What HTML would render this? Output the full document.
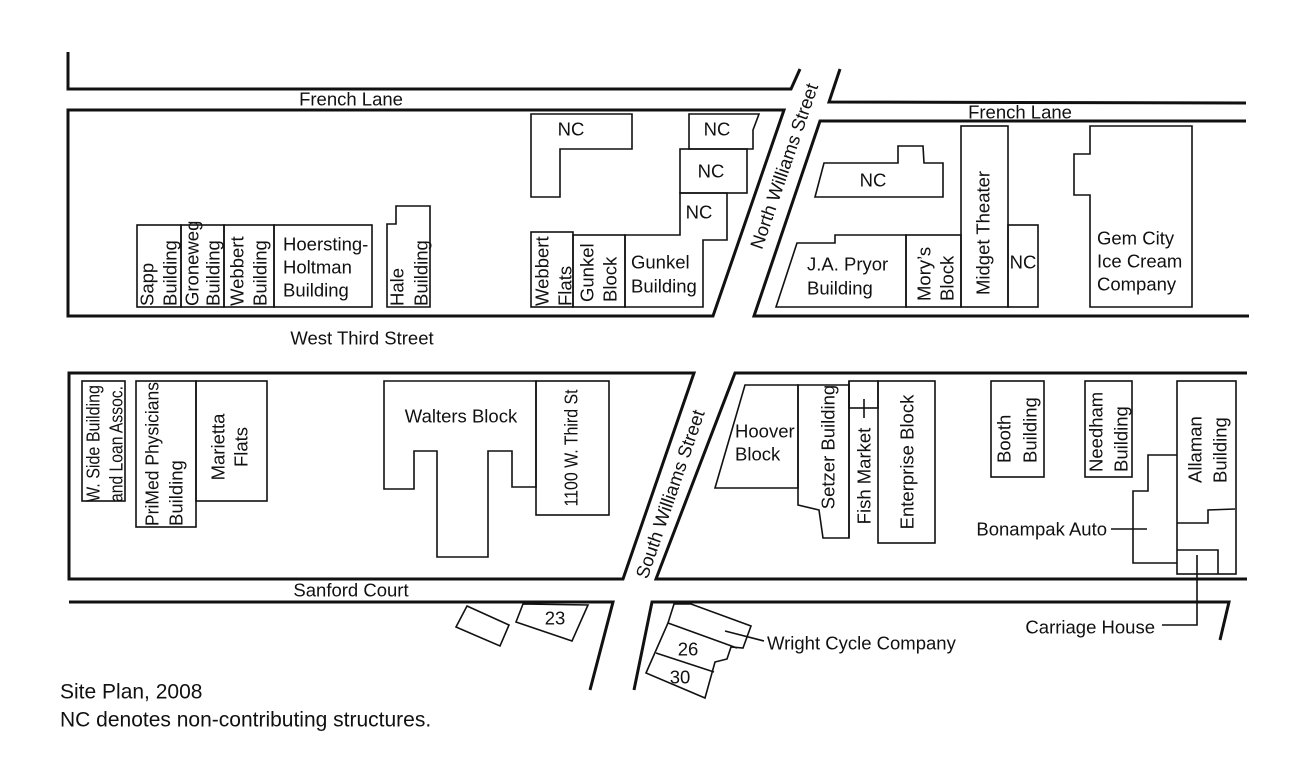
<!DOCTYPE html>
<html><head><meta charset="utf-8"><style>
html,body{margin:0;padding:0;background:#fff;}
svg{display:block;}
text{font-family:"Liberation Sans",sans-serif;font-size:18.5px;fill:#111;}
.s{fill:none;stroke:#111;stroke-width:3;stroke-linejoin:miter;}
.b{fill:none;stroke:#111;stroke-width:1.6;}
</style></head><body>
<svg width="1300" height="781" viewBox="0 0 1300 781" xmlns="http://www.w3.org/2000/svg">
<polyline class="s" points="68,52 68,89 791,89 800,69"/>
<polygon class="s" points="68,110 784,110 713,316 68,316"/>
<polyline class="s" points="840,69 829,102 1246,103"/>
<polyline class="s" points="1246,121 820,121 754,316 1249,316"/>
<polygon class="s" points="69,373 694,373 623,579 69,579"/>
<polyline class="s" points="1247,373 735,373 656,579 1247,579"/>
<polyline class="s" points="69,602 613,602 590,690"/>
<polyline class="s" points="634,690 652,602 1229,602 1220,640"/>

<rect class="b" x="137" y="225" width="44" height="82"/>
<rect class="b" x="181" y="225" width="43" height="82"/>
<rect class="b" x="224" y="225" width="50" height="82"/>
<rect class="b" x="274" y="225" width="98" height="82"/>
<polygon class="b" points="387,307 387,224 396,224 396,206 430,206 430,307"/>
<polygon class="b" points="531,114 632,114 632,149 560,149 560,197 531,197"/>
<polygon class="b" points="689,114 759,114 753,130 753,149 689,149"/>
<rect class="b" x="680" y="149" width="67" height="44"/>
<rect class="b" x="531" y="232" width="42" height="75"/>
<rect class="b" x="573" y="235" width="52" height="72"/>
<polygon class="b" points="625,307 625,235 680,235 680,193 727,193 727,240 703,240 703,307"/>

<polygon class="b" points="815,197 824,163 898,163 898,146 923,146 924,163 943,163 943,197"/>
<polygon class="b" points="776,307 797,243 835,243 835,235 906,235 906,307"/>
<rect class="b" x="906" y="235" width="55" height="72"/>
<rect class="b" x="961" y="126" width="47" height="181"/>
<rect class="b" x="1008" y="225" width="30" height="82"/>
<polygon class="b" points="1090,126 1192,126 1192,307 1090,307 1090,195 1074,195 1074,154 1090,154"/>

<rect class="b" x="82" y="381" width="43" height="120"/>
<rect class="b" x="136" y="381" width="60" height="146"/>
<rect class="b" x="196" y="381" width="71" height="120"/>
<polygon class="b" points="384,381 536,381 536,487 512,487 512,451 488,451 488,557 437,557 437,451 414,451 414,489 384,489"/>
<rect class="b" x="536" y="381" width="73" height="134"/>
<polygon class="b" points="467,606 509,625 500,646 456,627"/>
<polygon class="b" points="523,604 588,605 572,641 516,622"/>

<polygon class="b" points="715,488 745,385 798,385 798,488"/>
<polygon class="b" points="798,385 849,385 849,538 823,538 819,510 798,505"/>
<rect class="b" x="849" y="381" width="29" height="27"/>
<line class="b" x1="849" y1="381" x2="849" y2="538"/>
<line class="b" x1="864" y1="399" x2="864" y2="418"/>
<rect class="b" x="878" y="381" width="57" height="162"/>
<rect class="b" x="991" y="381" width="53" height="96"/>
<rect class="b" x="1085" y="381" width="47" height="96"/>
<rect class="b" x="1177" y="381" width="59" height="193"/>
<polyline class="b" points="1177,523 1208,523 1208,510 1235,509"/>
<polyline class="b" points="1177,550 1218,550 1218,574"/>
<polyline class="b" points="1177,455 1148,455 1148,491 1133,491 1133,563 1177,563"/>
<line class="b" x1="1111" y1="529" x2="1147" y2="529"/>
<polyline class="b" points="1197,555 1197,625 1162,625"/>

<polygon class="b" points="674,604 691,604 751,626 743,648 731,647 727,659 715,662 705,698 646,673 668,623"/>
<line class="b" x1="668" y1="623" x2="737" y2="648"/>
<line class="b" x1="656" y1="653" x2="714" y2="672"/>
<line class="b" x1="725" y1="631" x2="764" y2="641"/>

<g dominant-baseline="central">
<text x="351" y="99" text-anchor="middle">French Lane</text>
<text x="1020" y="112" text-anchor="middle">French Lane</text>
<text x="362" y="338" text-anchor="middle">West Third Street</text>
<text x="351" y="590" text-anchor="middle">Sanford Court</text>
<text x="283" y="244">Hoersting-</text>
<text x="283" y="267">Holtman</text>
<text x="283" y="290">Building</text>
<text x="571" y="129" text-anchor="middle">NC</text>
<text x="717" y="129" text-anchor="middle">NC</text>
<text x="711" y="171" text-anchor="middle">NC</text>
<text x="699" y="212" text-anchor="middle">NC</text>
<text x="631" y="262">Gunkel</text>
<text x="631" y="286">Building</text>
<text x="873" y="180" text-anchor="middle">NC</text>
<text x="807" y="264">J.A. Pryor</text>
<text x="807" y="288">Building</text>
<text x="1023" y="262" text-anchor="middle">NC</text>
<text x="1097" y="238">Gem City</text>
<text x="1097" y="261">Ice Cream</text>
<text x="1097" y="284">Company</text>
<text x="461" y="416" text-anchor="middle">Walters Block</text>
<text x="735" y="431">Hoover</text>
<text x="735" y="454">Block</text>
<text x="1107" y="529" text-anchor="end">Bonampak Auto</text>
<text x="1155" y="627" text-anchor="end">Carriage House</text>
<text x="767" y="643">Wright Cycle Company</text>
<text x="555" y="618" text-anchor="middle">23</text>
<text x="688" y="649" text-anchor="middle">26</text>
<text x="680" y="677" text-anchor="middle">30</text>
<text x="60" y="692" style="font-size:21px">Site Plan, 2008</text>
<text x="60" y="720" style="font-size:21px">NC denotes non-contributing structures.</text>
<text transform="translate(784,166) rotate(-71)" text-anchor="middle">North Williams Street</text>
<text transform="translate(670,494) rotate(-71)" text-anchor="middle">South Williams Street</text>

<text transform="translate(147,306) rotate(-90)">Sapp</text>
<text transform="translate(170,306) rotate(-90)">Building</text>
<text transform="translate(192,306) rotate(-90)">Groneweg</text>
<text transform="translate(213,306) rotate(-90)">Building</text>
<text transform="translate(237,306) rotate(-90)">Webbert</text>
<text transform="translate(260,306) rotate(-90)">Building</text>
<text transform="translate(397,306) rotate(-90)">Hale</text>
<text transform="translate(421,306) rotate(-90)">Building</text>
<text transform="translate(542,306) rotate(-90)">Webbert</text>
<text transform="translate(565,306) rotate(-90)">Flats</text>
<text transform="translate(587,302) rotate(-90)">Gunkel</text>
<text transform="translate(610,302) rotate(-90)">Block</text>
<text transform="translate(924,301) rotate(-90)">Mory’s</text>
<text transform="translate(947,301) rotate(-90)">Block</text>
<text transform="translate(983,295) rotate(-90)">Midget Theater</text>
<text transform="translate(93,502) rotate(-90)" textLength="117" lengthAdjust="spacingAndGlyphs">W. Side Building</text>
<text transform="translate(116,502) rotate(-90)" textLength="116" lengthAdjust="spacingAndGlyphs">and Loan Assoc.</text>
<text transform="translate(152,526) rotate(-90)" textLength="144" lengthAdjust="spacingAndGlyphs">PriMed Physicians</text>
<text transform="translate(176,526) rotate(-90)">Building</text>
<text transform="translate(218,447) rotate(-90)" text-anchor="middle">Marietta</text>
<text transform="translate(241,447) rotate(-90)" text-anchor="middle">Flats</text>
<text transform="translate(571,448) rotate(-90)" text-anchor="middle" textLength="117" lengthAdjust="spacingAndGlyphs">1100 W. Third St</text>
<text transform="translate(828,447) rotate(-90)" text-anchor="middle">Setzer Building</text>
<text transform="translate(864,476) rotate(-90)" text-anchor="middle">Fish Market</text>
<text transform="translate(907,462) rotate(-90)" text-anchor="middle">Enterprise Block</text>
<text transform="translate(1004,463) rotate(-90)">Booth</text>
<text transform="translate(1030,463) rotate(-90)">Building</text>
<text transform="translate(1096,472) rotate(-90)">Needham</text>
<text transform="translate(1121,472) rotate(-90)">Building</text>
<text transform="translate(1195,483) rotate(-90)">Allaman</text>
<text transform="translate(1220,483) rotate(-90)">Building</text>
</g>
</svg>
</body></html>
